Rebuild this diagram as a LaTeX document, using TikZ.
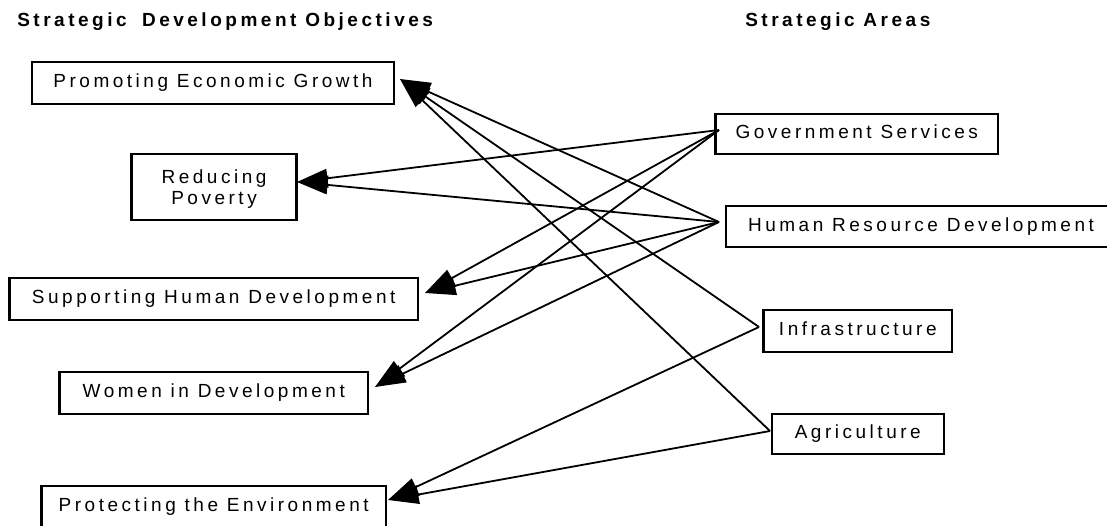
\documentclass[tikz,border=0pt]{standalone}
\usepackage{fontspec}
\setmainfont{Liberation Sans}[LetterSpace=18.5]
\usetikzlibrary{arrows.meta}
\begin{document}
\begin{tikzpicture}[x=0.75pt,y=-0.75pt,
  box/.style={draw,line width=1.7pt,inner sep=0pt,
    font=\fontsize{14.25pt}{15.75pt}\selectfont,text height=10.4pt,text depth=3pt},
  twoline/.style={draw,line width=1.7pt,inner sep=0pt,
    font=\fontsize{14.25pt}{15.75pt}\selectfont},
  heading/.style={anchor=base west,inner sep=0pt,
    font=\fontsize{14.25pt}{15.75pt}\selectfont\bfseries},
  link/.style={line width=1.35pt,-{Triangle[length=23pt,width=14pt]}}]
\clip (0,0) rectangle (1107,525);
% headings
\node[heading] (t1) at (17,26) {Strategic\hspace{11.5pt}Development Objectives};
\node[heading] (t2) at (745,26) {Strategic Areas};
% objectives
\node[box,minimum width=272pt,minimum height=31.5pt] (peg) at (213,83) {Promoting Economic Growth};
\node[twoline,minimum width=123.75pt,minimum height=49.7pt] (rp) at (214,186.8)
  {\raisebox{2.2pt}[0pt][0pt]{\begin{tabular}[t]{@{}c@{}}Reducing\\Poverty\end{tabular}}};
\node[box,minimum width=306.4pt,minimum height=31.5pt] (shd) at (213.7,299) {Supporting Human Development};
\node[box,minimum width=231.3pt,minimum height=31.5pt] (wid) at (213.8,393) {Women in Development};
\node[box,minimum width=258.5pt,minimum height=31.5pt] (pe) at (213.7,507) {Protecting the Environment};
% areas
\node[box,minimum width=211.9pt,minimum height=30pt] (gs) at (856.8,134) {Government Services};
\node[box,minimum width=292.5pt,minimum height=31.2pt] (hrd) at (921,226.5) {Human Resource Development};
\node[box,minimum width=141.4pt,minimum height=31.3pt] (inf) at (857.8,330.8) {Infrastructure};
\node[box,minimum width=129.2pt,minimum height=30pt] (agr) at (857.8,434) {Agriculture};
% connector ends
\coordinate (gs-o) at (719,130);
\coordinate (hrd-o) at (719,222);
\coordinate (inf-o) at (759,327);
\coordinate (agr-o) at (770,431);
\coordinate (peg-i) at (400,79);
\coordinate (rp-i) at (297,182);
\coordinate (shd-i) at (425,293);
\coordinate (wid-i) at (375,387);
\coordinate (pe-i) at (388,500);
% connectors
\draw[link] (gs-o) -- (rp-i);
\draw[link] (gs-o) -- (shd-i);
\draw[link] (gs-o) -- (wid-i);
\draw[link] (hrd-o) -- (peg-i);
\draw[link] (hrd-o) -- (rp-i);
\draw[link] (hrd-o) -- (shd-i);
\draw[link] (hrd-o) -- (wid-i);
\draw[link] (inf-o) -- (peg-i);
\draw[link] (inf-o) -- (pe-i);
\draw[link] (agr-o) -- (peg-i);
\draw[link] (agr-o) -- (pe-i);
\end{tikzpicture}
\end{document}
